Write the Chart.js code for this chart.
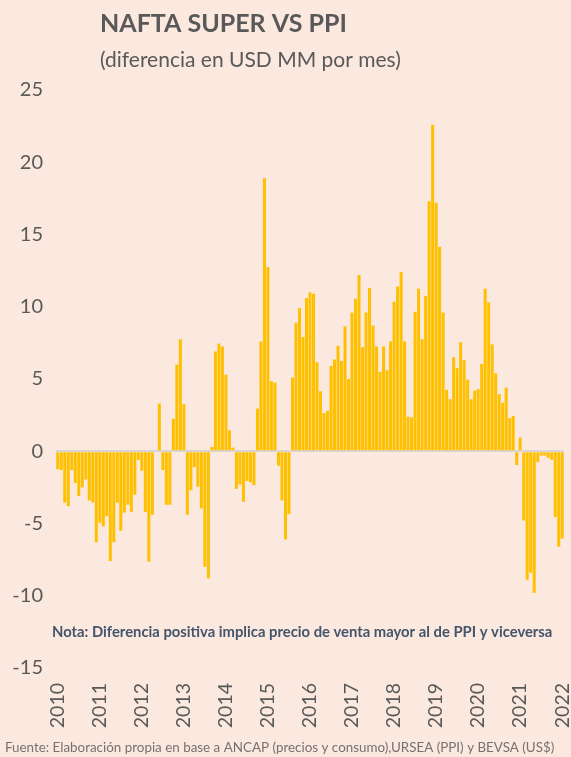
<!DOCTYPE html>
<html lang="es">
<head>
<meta charset="utf-8">
<title>Nafta Super vs PPI</title>
<script src="https://cdn.jsdelivr.net/npm/chart.js@4/dist/chart.umd.min.js"></script>
<style>
  html, body { margin: 0; padding: 0; background: #fbe8de; }
  canvas { display: block; }
</style>
</head>
<body>
<canvas id="chart" width="571" height="757"></canvas>
<script>
// Monthly difference, nafta super sale price vs PPI (USD millions per month)
const diff2010 = [-1.25, -1.3, -3.55, -3.8, -1.3, -2.2, -3.1, -2.5, -1.95, -3.4, -3.55, -6.3];
const diff2011 = [-4.95, -5.2, -4.5, -7.6, -6.3, -3.55, -5.5, -4.25, -3.7, -4.2, -3.0, -0.6];
const diff2012 = [-1.35, -4.2, -7.65, -4.4, 0, 3.3, -1.3, -3.7, -3.7, 2.25, 6.0, 7.75];
const diff2013 = [3.25, -4.4, -2.7, -1.1, -2.45, -3.95, -8.0, -8.8, 0.3, 6.9, 7.45, 7.25];
const diff2014 = [5.3, 1.45, 0.25, -2.6, -2.3, -3.5, -2.05, -2.15, -2.35, 2.95, 7.6, 18.9];
const diff2015 = [12.75, 4.85, 4.75, -1.0, -3.4, -6.1, -4.35, 5.1, 8.9, 9.9, 7.9, 10.6];
const diff2016 = [11.0, 10.9, 6.15, 4.15, 2.65, 2.8, 5.9, 6.35, 7.3, 6.25, 8.65, 5.0];
const diff2017 = [9.6, 10.55, 12.2, 7.2, 9.6, 11.3, 8.7, 7.25, 5.5, 7.25, 5.6, 7.6];
const diff2018 = [10.35, 11.4, 12.4, 7.6, 2.4, 2.35, 9.65, 11.25, 7.75, 10.75, 17.3, 22.6];
const diff2019 = [17.2, 14.15, 9.6, 4.25, 3.6, 6.5, 5.75, 7.55, 6.3, 4.95, 3.6, 4.2];
const diff2020 = [4.3, 6.05, 11.25, 10.3, 7.4, 5.4, 3.95, 3.35, 4.4, 2.3, 2.45, -0.95];
const diff2021 = [0.95, -4.8, -8.9, -8.4, -9.8, -0.75, -0.3, -0.3, -0.45, -0.6, -4.55, -6.6];
const diff2022 = [-6.05];

const years = [2010, 2011, 2012, 2013, 2014, 2015, 2016, 2017, 2018, 2019, 2020, 2021, 2022];
const yearSeries = [diff2010, diff2011, diff2012, diff2013, diff2014, diff2015, diff2016,
                    diff2017, diff2018, diff2019, diff2020, diff2021, diff2022];
const yTicks = [-15, -10, -5, 0, 5, 10, 15, 20, 25];

const titleText = 'NAFTA SUPER VS PPI';
const subtitleText = '(diferencia en USD MM por mes)';
const noteText = 'Nota: Diferencia positiva implica precio de venta mayor al de PPI y viceversa';
const sourceText = 'Fuente: Elaboración propia en base a ANCAP (precios y consumo),URSEA (PPI) y BEVSA (US$)';

// One category per month, "YYYY-MM"
const labels = [];
const values = [];
yearSeries.forEach((series, i) => {
  series.forEach((v, m) => {
    labels.push(years[i] + '-' + String(m + 1).padStart(2, '0'));
    values.push(v);
  });
});

const FONT = 'Lato, "Open Sans", sans-serif';
const GREY = '#595959';

const background = {
  id: 'background',
  beforeDraw(chart) {
    const ctx = chart.ctx;
    ctx.save();
    ctx.fillStyle = '#fbe8de';
    ctx.fillRect(0, 0, chart.width, chart.height);
    ctx.restore();
  }
};

const texts = {
  id: 'texts',
  afterDraw(chart) {
    const ctx = chart.ctx;
    ctx.save();
    ctx.textBaseline = 'middle';
    ctx.textAlign = 'left';

    ctx.fillStyle = GREY;
    ctx.font = 'bold 25px ' + FONT;
    ctx.fillText(titleText, 100, 24);

    ctx.font = '21px ' + FONT;
    ctx.fillText(subtitleText, 100, 60);

    ctx.fillStyle = '#44546a';
    ctx.font = 'bold 14.8px ' + FONT;
    ctx.fillText(noteText, 52, 632);

    ctx.fillStyle = '#767171';
    ctx.font = '13.4px ' + FONT;
    ctx.fillText(sourceText, 5, 748);
    ctx.restore();
  }
};

new Chart(document.getElementById('chart'), {
  type: 'bar',
  data: {
    labels: labels,
    datasets: [{
      data: values,
      backgroundColor: '#ffc000',
      borderWidth: 0,
      barPercentage: 0.86,
      categoryPercentage: 1
    }]
  },
  options: {
    responsive: false,
    animation: false,
    devicePixelRatio: 1,
    layout: { padding: { top: 90, left: 0, right: 7, bottom: 0 } },
    plugins: {
      legend: { display: false },
      tooltip: { enabled: false },
      title: { display: false }
    },
    scales: {
      x: {
        grid: { display: false, drawTicks: false },
        border: { display: false },
        ticks: {
          autoSkip: false,
          minRotation: 90,
          maxRotation: 90,
          padding: 15,
          color: GREY,
          font: { family: FONT, size: 19.5 },
          callback(value, index) {
            const lab = labels[index];
            return lab.endsWith('-01') ? lab.slice(0, 4) : '';
          }
        },
        afterFit(scale) {
          scale.height = 89;
          scale.paddingLeft = 0;
          scale.paddingRight = 0;
        }
      },
      y: {
        min: yTicks[0],
        max: yTicks[yTicks.length - 1],
        afterBuildTicks(scale) { scale.ticks = yTicks.map(v => ({ value: v })); },
        grid: {
          drawTicks: false,
          lineWidth: 2,
          color: (c) => (c.tick && c.tick.value === 0 ? '#d9d5d2' : 'rgba(0,0,0,0)')
        },
        border: { display: false },
        ticks: {
          padding: 13,
          color: GREY,
          font: { family: FONT, size: 20 }
        },
        afterFit(scale) {
          scale.width = 56;
          scale.paddingTop = 0;
          scale.paddingBottom = 0;
        }
      }
    }
  },
  plugins: [background, texts]
});
</script>
</body>
</html>
